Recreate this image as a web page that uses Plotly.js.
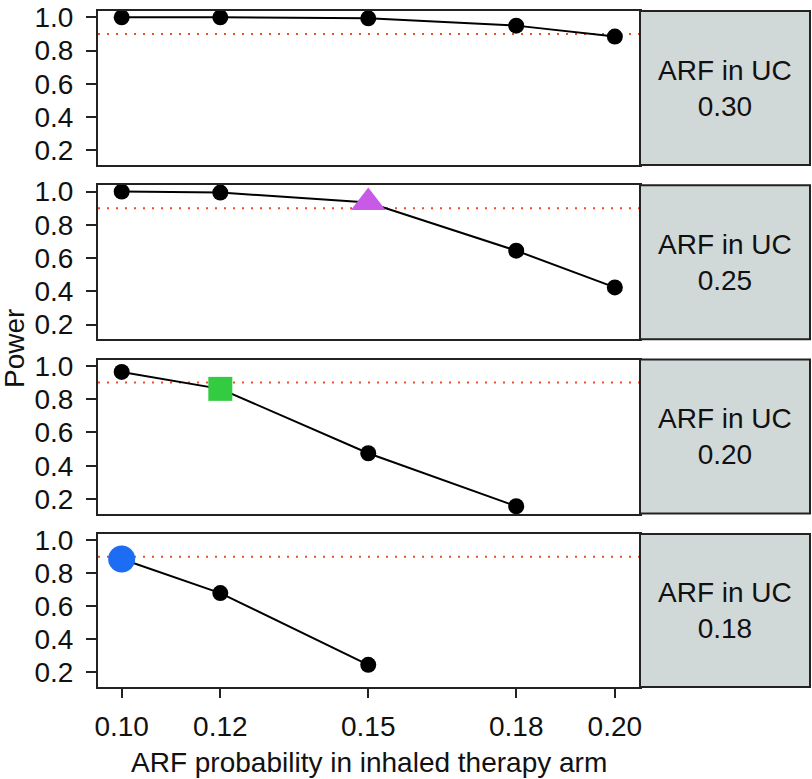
<!DOCTYPE html>
<html>
<head>
<meta charset="utf-8">
<script src="https://cdn.plot.ly/plotly-3.0.1.min.js"></script>
<style>html,body{margin:0;padding:0;background:#fff;}#chart{width:812px;height:779px;}</style>
</head>
<body>
<div id="chart"></div>
<script>
// ---- data ----
const xProb = [0.10, 0.12, 0.15, 0.18, 0.20];
const xTickText = ["0.10", "0.12", "0.15", "0.18", "0.20"];
const ucLabels = ["0.30", "0.25", "0.20", "0.18"];
const power030 = [1.0, 1.0, 0.994, 0.95, 0.884];
const power025 = [1.0, 0.994, 0.935, 0.645, 0.424];
const power020 = [0.964, 0.862, 0.475, 0.156];
const power018 = [0.886, 0.68, 0.246];
const threshold = 0.9;
const yTicks = [0.2, 0.4, 0.6, 0.8, 1.0];
// highlighted point per panel (index into series), -1 = none
const highlightIdx = [-1, 2, 1, 0];
const highlightSymbol = ["circle", "triangle-up", "square", "circle"];
const highlightColor = ["#000", "#c75ae6", "#33cc40", "#1c6cf4"];
const highlightSize = [16, 30, 24, 27];

const series = [power030, power025, power020, power018];

// ---- layout geometry ----
const W = 812, H = 779;
const mL = 98, mR = 2, mT = 11, mB = 92;
const plotW = W - mL - mR, plotH = H - mT - mB;
const xDomEnd = (640 - mL) / plotW;
const panelH = 154, panelStep = 174.3;
const FS = 28;

const traces = [];
const layout = {
  width: W, height: H,
  margin: {l: mL, r: mR, t: mT, b: mB},
  paper_bgcolor: "#fff",
  plot_bgcolor: "rgba(0,0,0,0)",
  showlegend: false,
  font: {family: "Liberation Sans, Arial, sans-serif", size: FS, color: "#111"},
  shapes: [], annotations: []
};

series.forEach((vals, i) => {
  const n = i + 1;
  const xa = n === 1 ? "x" : "x" + n;
  const ya = n === 1 ? "y" : "y" + n;
  const xs = xProb.slice(0, vals.length);
  const sym = vals.map((v, k) => k === highlightIdx[i] ? highlightSymbol[i] : "circle");
  const col = vals.map((v, k) => k === highlightIdx[i] ? highlightColor[i] : "#000");
  const siz = vals.map((v, k) => k === highlightIdx[i] ? highlightSize[i] : 16);
  traces.push({
    x: xs, y: vals, xaxis: xa, yaxis: ya, type: "scatter", mode: "lines+markers",
    line: {color: "#000", width: 2},
    marker: {symbol: sym, color: col, size: siz, opacity: 1, line: {width: 0}},
    cliponaxis: false, hoverinfo: "x+y"
  });
  const top = mT + i * panelStep;
  const bot = top + panelH;
  const d0 = (H - mB - bot) / plotH, d1 = (H - mB - top) / plotH;
  const isBottom = n === series.length;
  layout["xaxis" + (n === 1 ? "" : n)] = {
    domain: [0, xDomEnd], range: [0.0952, 0.2051], anchor: ya,
    showline: true, mirror: true, linewidth: 2, linecolor: "#222",
    showgrid: false, zeroline: false,
    tickmode: "array", tickvals: xProb, ticktext: xTickText,
    ticks: isBottom ? "outside" : "", ticklen: 9, tickwidth: 2, tickcolor: "#222",
    showticklabels: isBottom, ticklabelstandoff: 4,
    tickfont: {size: FS}
  };
  layout["yaxis" + (n === 1 ? "" : n)] = {
    domain: [d0, d1], range: [0.112, 1.038], anchor: xa,
    showline: true, mirror: true, linewidth: 2, linecolor: "#222",
    showgrid: false, zeroline: false,
    tickmode: "array", tickvals: yTicks, tickformat: ".1f",
    ticks: "outside", ticklen: 10, tickwidth: 2, tickcolor: "#222",
    ticklabelstandoff: 7, tickfont: {size: FS}
  };
  // threshold line
  layout.shapes.push({
    type: "line", xref: xa + " domain", yref: ya, x0: 0, x1: 1, y0: threshold, y1: threshold,
    line: {color: "#e8502a", width: 2, dash: "2px,7px"}, layer: "below"
  });
  // grey strip
  layout.shapes.push({
    type: "rect", xref: "paper", yref: ya + " domain", x0: xDomEnd, x1: 1, y0: 0, y1: 1,
    fillcolor: "#d1d9d8", line: {color: "#222", width: 2}, layer: "above"
  });
  layout.annotations.push({
    xref: "paper", yref: ya + " domain", x: (xDomEnd + 1) / 2, y: 0.5,
    xanchor: "center", yanchor: "middle", showarrow: false,
    text: "ARF in UC<br>" + ucLabels[i], font: {size: FS, color: "#111"}
  });
});

layout.annotations.push({
  xref: "paper", yref: "paper", x: (14 - mL) / plotW, y: 0.5, textangle: -90,
  xanchor: "center", yanchor: "middle", showarrow: false,
  text: "Power", font: {size: FS, color: "#111"}
});
layout.annotations.push({
  xref: "paper", yref: "paper", x: (369 - mL) / plotW, y: (H - mB - 763) / plotH,
  xanchor: "center", yanchor: "middle", showarrow: false,
  text: "ARF probability in inhaled therapy arm", font: {size: FS, color: "#111"}
});

Plotly.newPlot("chart", traces, layout, {displayModeBar: false, staticPlot: true});
</script>
</body>
</html>
